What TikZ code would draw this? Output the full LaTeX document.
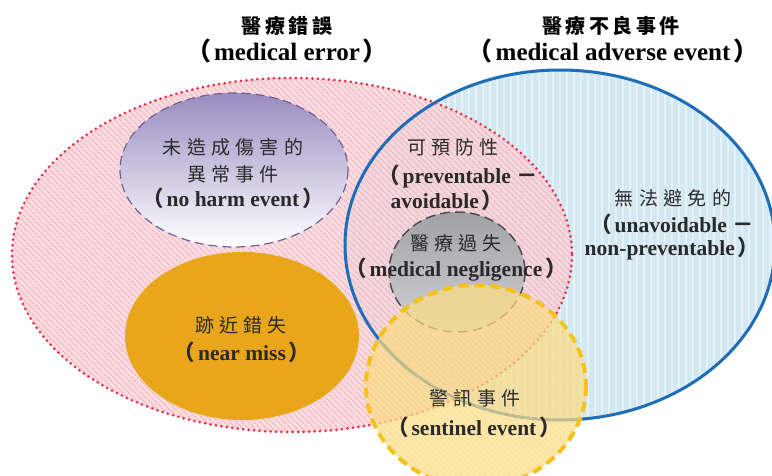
\documentclass[tikz,border=0pt]{standalone}
\usepackage{fontspec}
\setmainfont{Liberation Serif}
\newfontfamily\cjk[LetterSpace=28]{Noto Sans CJK TC}
\newfontfamily\cjkt[LetterSpace=18]{Noto Sans CJK TC}
\newfontfamily\cjkp{Noto Sans CJK TC}
\usetikzlibrary{patterns.meta}
\definecolor{redfill}{HTML}{F9D5DA}
\definecolor{redhatch}{HTML}{F2B3BD}
\definecolor{redline}{HTML}{E5304C}
\definecolor{bluefill}{HTML}{D3E8F1}
\definecolor{bluehatch}{HTML}{E6F2F8}
\definecolor{blueline}{HTML}{1E6DB8}
\definecolor{purpletop}{HTML}{998BC0}
\definecolor{purpleline}{HTML}{6F5F97}
\definecolor{orangefill}{HTML}{E9A61B}
\definecolor{grayfill}{HTML}{BDBDC3}
\definecolor{grayline}{HTML}{4E4E4E}
\definecolor{yellowfill}{HTML}{FCDC85}
\definecolor{yellowline}{HTML}{F4C21C}
\definecolor{txt}{HTML}{2A2A2A}
\newcommand{\lp}{{\cjkp （}\hspace{3pt}}
\newcommand{\rp}{\hspace{3pt}{\cjkp ）}}
\tikzset{
  titlezh/.style={text=black, font=\cjkt\bfseries\fontsize{20}{22}\selectfont, inner sep=0pt},
  titleen/.style={text=black, font=\bfseries\fontsize{25}{27}\selectfont, inner sep=0pt},
  bodyzh/.style={text=txt, font=\cjk\fontsize{19}{21}\selectfont, inner sep=0pt},
  bodyen/.style={text=txt, font=\bfseries\fontsize{21.5}{23}\selectfont, inner sep=0pt},
}
\begin{document}
\begin{tikzpicture}[x=1pt,y=-1pt]
\useasboundingbox (0,0) rectangle (772,476);
\fill[white] (0,0) rectangle (772,476);
% blue ellipse (adverse event)
\fill[bluefill] (560,245) ellipse [x radius=215, y radius=175];
\fill[pattern={Lines[angle=90,distance=7pt,line width=2pt]}, pattern color=bluehatch] (560,245) ellipse [x radius=215, y radius=175];
% red ellipse (medical error)
\fill[redfill, opacity=0.8] (292,255) ellipse [x radius=280, y radius=177];
\fill[pattern={Lines[angle=-45,distance=4pt,line width=1.1pt]}, pattern color=redhatch] (292,255) ellipse [x radius=280, y radius=177];
% borders
\draw[blueline, line width=3pt] (560,245) ellipse [x radius=215, y radius=175];
\draw[redline, line width=3pt, line cap=round, dash pattern=on 0pt off 5.5pt] (292,255) ellipse [x radius=280, y radius=177];
% no harm
\shade[top color=purpletop, bottom color=white] (234,170) ellipse [x radius=114, y radius=77];
\draw[purpleline, line width=1.2pt, dash pattern=on 9pt off 5pt] (234,170) ellipse [x radius=114, y radius=77];
% near miss
\fill[orangefill] (242,336) ellipse [x radius=117, y radius=84];
% negligence
\shade[top color=grayfill!85!black, bottom color=grayfill!70!white] (457,272) ellipse [x radius=68, y radius=60];
\draw[grayline, line width=1.5pt, dash pattern=on 10pt off 5pt] (457,272) ellipse [x radius=68, y radius=60];
% sentinel
\fill[yellowfill, opacity=0.7] (476,386) ellipse [x radius=110, y radius=101];
\fill[pattern={Lines[angle=-45,distance=4pt,line width=0.8pt]}, pattern color=yellowline!60!white, opacity=0.45] (476,386) ellipse [x radius=110, y radius=101];
\draw[yellowline, line width=4pt, dash pattern=on 10pt off 6pt] (476,386) ellipse [x radius=110, y radius=101];
% titles
\node[titlezh] (t1zh) at (287,26) {醫療錯誤};
\node[titleen] (t1en) at (287,51) {\lp medical error\rp};
\node[titlezh] (t2zh) at (611,26) {醫療不良事件};
\node[titleen] (t2en) at (613,51) {\lp medical adverse event\rp};
% no harm
\node[bodyzh] (nh1) at (233,147) {未造成傷害的};
\node[bodyzh] (nh2) at (233,174) {異常事件};
\node[bodyen] (nh3) at (233,198) {\lp no harm event\rp};
% preventable
\node[bodyzh] (pv1) at (453,147) {可預防性};
\node[bodyen] (pv2) at (458,177) {\lp preventable {\cjkp －}};
\node[bodyen] (pv3) at (447,200) {avoidable\rp};
% unavoidable
\node[bodyzh] (ua1) at (673,198) {無法避免的};
\node[bodyen] (ua2) at (672,224) {\lp unavoidable {\cjkp －}};
\node[bodyen] (ua3) at (672,249) {non-preventable\rp};
% negligence
\node[bodyzh] (ng1) at (456,243) {醫療過失};
\node[bodyen] (ng2) at (456,270) {\lp medical negligence\rp};
% near miss
\node[bodyzh] (nm1) at (241,325) {跡近錯失};
\node[bodyen] (nm2) at (242,352) {\lp near miss\rp};
% sentinel
\node[bodyzh] (se1) at (475,398) {警訊事件};
\node[bodyen] (se2) at (474,427) {\lp sentinel event\rp};
\end{tikzpicture}
\end{document}
